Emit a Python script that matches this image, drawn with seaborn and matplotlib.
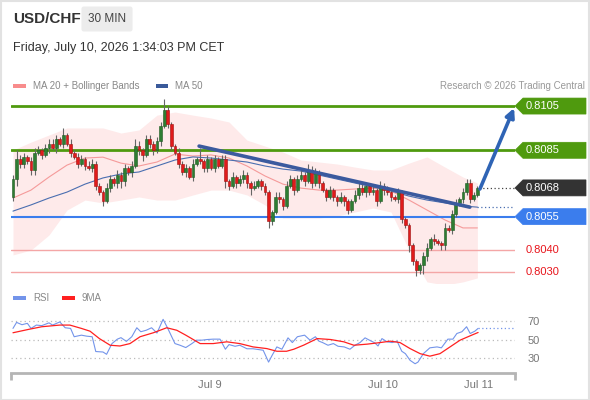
import numpy as np
import pandas as pd
import matplotlib
matplotlib.use("Agg")
import matplotlib.pyplot as plt
from matplotlib.patches import Rectangle, Polygon
import seaborn as sns

sns.set_theme(style="white")
plt.rcParams["font.family"] = ["Liberation Sans", "DejaVu Sans"]

# ---- price data (30 min candles, open = previous close) ----
first_open = 0.8064
closes = [
    0.8072, 0.8081, 0.8079, 0.8082, 0.8080, 0.8076, 0.8084, 0.8085, 0.8083, 0.8086,
    0.8088, 0.8086, 0.8090, 0.8088, 0.8092, 0.8088, 0.8084, 0.8082, 0.8079, 0.8081,
    0.8078, 0.8077, 0.8079, 0.8069, 0.8066, 0.8062, 0.8068, 0.8072, 0.8070, 0.8074,
    0.8071, 0.8077, 0.8075, 0.8078, 0.8087, 0.8085, 0.8083, 0.8090, 0.8088, 0.8085,
    0.8089, 0.8096, 0.8103, 0.8097, 0.8087, 0.8084, 0.8079, 0.8075, 0.8077, 0.8073,
    0.8079, 0.8081, 0.8080, 0.8077, 0.8081, 0.8077, 0.8081, 0.8078, 0.8081, 0.8071,
    0.8069, 0.8073, 0.8070, 0.8072, 0.8074, 0.8070, 0.8068, 0.8069, 0.8071, 0.8069,
    0.8066, 0.8053, 0.8057, 0.8064, 0.8063, 0.8060, 0.8069, 0.8072, 0.8067, 0.8072,
    0.8074, 0.8071, 0.8076, 0.8070, 0.8075, 0.8070, 0.8067, 0.8064, 0.8067, 0.8064,
    0.8062, 0.8064, 0.8062, 0.8058, 0.8062, 0.8065, 0.8068, 0.8066, 0.8069, 0.8066,
    0.8067, 0.8062, 0.8069, 0.8067, 0.8066, 0.8064, 0.8063, 0.8066, 0.8054, 0.8051,
    0.8042, 0.8035, 0.8031, 0.8033, 0.8037, 0.8041, 0.8045, 0.8044, 0.8043, 0.8042,
    0.8050, 0.8049, 0.8056, 0.8061, 0.8063, 0.8066, 0.8070, 0.8063, 0.8065, 0.8068,
]
# wick lengths beyond the body, in pips
wick_up = [
    2, 4, 2, 2, 1, 2, 2, 2, 1, 2,
    2, 2, 2, 1, 3, 1, 2, 1, 2, 2,
    1, 2, 2, 1, 1, 1, 2, 2, 1, 2,
    1, 2, 1, 2, 3, 2, 1, 2, 2, 1,
    2, 2, 5, 2, 1, 1, 2, 1, 2, 1,
    2, 1, 5, 1, 2, 1, 2, 1, 2, 2,
    1, 2, 1, 2, 2, 1, 1, 2, 1, 1,
    1, 1, 1, 2, 2, 1, 2, 2, 1, 2,
    2, 1, 3, 2, 2, 1, 1, 1, 2, 1,
    1, 2, 1, 1, 1, 2, 2, 2, 1, 1,
    2, 1, 2, 1, 2, 1, 1, 2, 1, 1,
    1, 1, 1, 1, 2, 2, 1, 2, 1, 1,
    2, 1, 2, 2, 1, 2, 2, 2, 1, 1,
]
wick_dn = [
    2, 3, 2, 2, 1, 2, 2, 1, 2, 1,
    2, 1, 2, 1, 2, 1, 2, 1, 2, 1,
    2, 1, 2, 2, 1, 2, 1, 2, 1, 2,
    3, 2, 1, 2, 1, 2, 3, 1, 2, 2,
    1, 2, 1, 2, 2, 1, 2, 1, 2, 1,
    2, 1, 1, 2, 2, 1, 2, 1, 1, 3,
    2, 1, 2, 1, 2, 2, 3, 1, 1, 2,
    1, 3, 2, 1, 2, 2, 1, 1, 2, 1,
    1, 2, 1, 2, 1, 2, 1, 2, 1, 2,
    2, 1, 2, 2, 1, 1, 2, 1, 2, 1,
    1, 2, 1, 2, 1, 2, 1, 2, 2, 1,
    3, 2, 3, 2, 4, 2, 1, 2, 1, 2,
    2, 1, 2, 1, 1, 2, 1, 2, 1, 1,
]

# moving averages and bollinger bands, read every 5 candles
ma_idx = [0, 5, 10, 15, 20, 25, 30, 35, 40, 45, 50, 55, 60, 65, 70, 75, 80, 85, 90,
          95, 100, 105, 110, 115, 120, 125, 129]
ma20 = [0.80634, 0.80670, 0.80729, 0.80783, 0.80815, 0.80819, 0.80792, 0.80779, 0.80797,
        0.80833, 0.80824, 0.80829, 0.80815, 0.80779, 0.80734, 0.80697, 0.80679, 0.80670,
        0.80670, 0.80675, 0.80679, 0.80666, 0.80625, 0.80580, 0.80535, 0.80499, 0.80499]
ma50 = [0.80575, 0.80603, 0.80634, 0.80661, 0.80697, 0.80725, 0.80743, 0.80752, 0.80779,
        0.80806, 0.80820, 0.80815, 0.80806, 0.80797, 0.80779, 0.80765, 0.80756, 0.80738,
        0.80720, 0.80702, 0.80684, 0.80666, 0.80643, 0.80625, 0.80612, 0.80598, 0.80593]
bb_up = [0.80851, 0.80887, 0.80919, 0.80951, 0.80951, 0.80951, 0.80928, 0.80942, 0.81009,
         0.81023, 0.81009, 0.80996, 0.80978, 0.80896, 0.80869, 0.80842, 0.80806, 0.80797,
         0.80788, 0.80774, 0.80761, 0.80761, 0.80792, 0.80820, 0.80774, 0.80729, 0.80702]
bb_dn = [0.80377, 0.80399, 0.80467, 0.80580, 0.80625, 0.80612, 0.80625, 0.80639, 0.80625,
         0.80625, 0.80648, 0.80670, 0.80670, 0.80648, 0.80603, 0.80544, 0.80544, 0.80544,
         0.80553, 0.80571, 0.80589, 0.80571, 0.80399, 0.80255, 0.80241, 0.80255, 0.80273]

# trend line and target arrow (candle index, price)
trend_x = [51.7, 126.9]
trend_y = [0.80869, 0.80593]
arrow_x = [129.7, 139.2]
arrow_y = [0.80675, 0.81041]

# support / resistance levels
res_levels = [0.8105, 0.8085]
piv_level = 0.8055
sup_levels = [0.8040, 0.8030]
last_price = 0.8068
ma50_last = 0.80593

# RSI panel
rsi_idx = [0, 1, 2.5, 4, 5, 6.5, 8, 10, 11, 13,
           14.5, 16, 17, 19, 20.5, 22, 23, 25, 26, 27.5,
           29, 30, 31.5, 33, 34.4, 35.5, 37, 38.5, 40, 41.7,
           43, 45, 46.4, 48, 49.7, 51, 52.5, 54, 55.6, 57.5,
           59, 60, 61.7, 63, 65, 66.7, 69.5, 71, 72, 73.3,
           74.7, 76.4, 77.6, 79, 81, 82.5, 84, 85, 86, 87.5,
           89, 90.3, 92, 93.6, 95, 96.4, 97.8, 99, 100.5, 101.4,
           102.5, 103.9, 105.3, 106.7, 108, 109, 110.3, 111.7, 112.5, 114,
           115.8, 117.8, 119, 120.8, 122.2, 123.3, 124.7, 126, 127, 128.3,
           129.2]
rsi_val = [62, 68.5, 66, 67.5, 62, 65.6, 65, 68, 65.6, 69,
           62.7, 62, 53, 54.7, 53.6, 53, 37, 36.5, 34, 45.6,
           50.4, 52, 48, 53, 62.7, 58.4, 60, 62.7, 57, 71.8,
           62, 45.6, 43.8, 41.3, 45.6, 49.3, 49.3, 50, 50.4, 50.4,
           39.5, 44.5, 42.7, 43.8, 40, 40, 38.4, 25.6, 33, 42,
           39.5, 51.8, 46.7, 53, 54.7, 49.3, 53, 48.2, 46.7, 43.8,
           45.6, 42.7, 42, 39.5, 43.8, 46.7, 51.8, 49.3, 46.4, 43,
           51, 47.5, 46.7, 48.2, 37.3, 34.7, 27.5, 23.8, 25.6, 34.7,
           41, 42, 41, 50.4, 50.4, 56.5, 58.4, 63.8, 56.5, 59,
           62]
rsi_ma_idx = [0, 4.4, 8, 13, 15.8, 19, 21.4, 24, 27, 29.7,
              32.5, 35.3, 39, 42.7, 45.5, 48, 52, 55.6, 59.4, 63,
              66.7, 70.5, 73.3, 76, 78, 80.8, 84.5, 88.2, 91.9, 94.7,
              98.4, 102, 104.8, 107.5, 110.3, 113.1, 115.8, 118.6, 121.4, 124.2,
              127, 129.2]
rsi_ma_val = [57.3, 61, 63.8, 65.6, 65.6, 62, 59, 51, 43.8, 43,
              45.6, 53, 57.3, 62.7, 60, 54.7, 45.6, 45.6, 47.5, 45.6,
              42, 40.2, 37.3, 37.3, 39.5, 44, 51, 50, 47.5, 43.8,
              45, 46.7, 48.2, 46.7, 40.2, 34.7, 32, 34.7, 42, 49.3,
              54, 57.6]
rsi_levels = [30, 50, 70]
date_pos = [54.7, 102.8, 129.4]
date_labels = ["Jul 9", "Jul 10", "Jul 11"]

# colours
GREEN = "#4f9a0e"
BLUE = "#3b7ded"
RED_LINE = "#f4a6a6"
RED_TXT = "#e8141b"
CANDLE_UP = "#2e7d32"
CANDLE_DN = "#e01b1b"
TREND = "#3b5a9e"

W, H = 590, 400


def fx(px):
    return px / W


def fy(py):
    return 1 - py / H


fig = plt.figure(figsize=(5.9, 4.0), dpi=100)
fig.patch.set_facecolor("white")

# ---- price panel ----
ax = fig.add_axes([fx(11), fy(283), 504 / W, 188 / H])
ax.set_xlim(-0.55, 139.45)
ax.set_ylim(0.80250, 0.81100)
ax.axis("off")

ax.fill_between(ma_idx, bb_dn, bb_up, color="#feeaea", lw=0, zorder=1)
sns.lineplot(x=ma_idx, y=ma20, ax=ax, color="#f59a9a", linewidth=0.8, zorder=2)
sns.lineplot(x=ma_idx, y=ma50, ax=ax, color="#4a6eb0", linewidth=0.8, zorder=2)

for lv in res_levels:
    ax.axhline(lv, color=GREEN, lw=2, zorder=2.5)
ax.axhline(piv_level, color=BLUE, lw=1.5, zorder=2.5)
for lv in sup_levels:
    ax.axhline(lv, color=RED_LINE, lw=1, zorder=2.5)

n = len(closes)
idx = np.arange(n)
c = np.array(closes)
o = np.concatenate([[first_open], c[:-1]])
hi = np.maximum(o, c) + np.array(wick_up) * 0.0001
lo = np.minimum(o, c) - np.array(wick_dn) * 0.0001
up = c >= o
ax.vlines(idx, lo, hi, color="#666666", lw=0.8, zorder=3)
body = np.where(np.abs(c - o) < 0.00004, 0.00004, c - o)
ax.bar(idx, body, bottom=o, width=0.78,
       color=np.where(up, CANDLE_UP, CANDLE_DN),
       edgecolor=np.where(up, "#1e5a22", "#a01010"), linewidth=0.4, zorder=3.5)

sns.lineplot(x=trend_x, y=trend_y, ax=ax, color=TREND, linewidth=2.6, zorder=4)
ax.annotate("", xy=(arrow_x[1], arrow_y[1]), xytext=(arrow_x[0], arrow_y[0]),
            arrowprops=dict(arrowstyle="-|>", color="#2f64b5", lw=2.6,
                            mutation_scale=13, shrinkA=0, shrinkB=0), zorder=5)

ax.plot([n - 0.5, 139.45], [last_price, last_price], color="#444444", lw=0.9,
        ls=(0, (1, 2)), zorder=4)
ax.plot([n - 1, 139.45], [ma50_last, ma50_last], color="#4a6eb0", lw=0.9,
        ls=(0, (1, 2)), zorder=4)


# ---- right side price labels ----
def level_py(level):
    disp = ax.transData.transform((0, level))
    return H - disp[1]


def tag(level, text, fc):
    py = level_py(level)
    pts = [(515, py), (523, py - 8), (586, py - 8), (586, py + 8), (523, py + 8)]
    fig.patches.append(Polygon([(fx(a), fy(b)) for a, b in pts], closed=True,
                               transform=fig.transFigure, fc=fc, ec=fc, lw=0.5))
    fig.text(fx(526), fy(py), text, color="white", fontsize=8, va="center", ha="left")


tag(0.8105, "0.8105", GREEN)
tag(0.8085, "0.8085", GREEN)
tag(last_price, "0.8068", "#333333")
tag(piv_level, "0.8055", BLUE)
for lv in sup_levels:
    fig.text(fx(526), fy(level_py(lv)), f"{lv:.4f}", color=RED_TXT, fontsize=8,
             va="center", ha="left")

# ---- RSI panel ----
rax = fig.add_axes([fx(11), fy(373), 504 / W, 68 / H])
rax.set_xlim(-0.55, 139.45)
rax.set_ylim(13.8, 87.3)
for s in ["top", "left", "right"]:
    rax.spines[s].set_visible(False)
rax.spines["bottom"].set_color("#b5b5b5")
rax.spines["bottom"].set_linewidth(2)
for lv in rsi_levels:
    rax.axhline(lv, color="#bbbbbb", lw=0.9, ls=(0, (1, 2.5)), zorder=1)
sns.lineplot(x=rsi_idx, y=rsi_val, ax=rax, color="#7394ea", linewidth=0.8, zorder=2)
sns.lineplot(x=rsi_ma_idx, y=rsi_ma_val, ax=rax, color="#ff2020", linewidth=0.9, zorder=3)
rax.plot([rsi_idx[-1], 139.2], [rsi_val[-1], rsi_val[-1]], color="#7394ea", lw=0.9,
         ls=(0, (1, 2)), zorder=2)

rax.set_xticks([-0.55, 139.45])
rax.set_xticklabels(["", ""])
rax.tick_params(axis="x", which="major", length=5, width=2, color="#b5b5b5", bottom=True)
rax.set_xticks(date_pos, minor=True)
rax.set_xticklabels(date_labels, minor=True)
rax.tick_params(axis="x", which="minor", length=0, pad=5, labelsize=8, labelcolor="#777777")
rax.yaxis.tick_right()
rax.set_yticks(rsi_levels)
rax.set_yticklabels([str(v) for v in rsi_levels])
rax.tick_params(axis="y", length=0, pad=9, labelsize=8, labelcolor="#777777")
rax.set_xlabel("")
rax.set_ylabel("")
ax.set_xlabel("")
ax.set_ylabel("")

# ---- header and legends ----
fig.text(fx(13), fy(19), "USD/CHF", fontsize=11, fontweight="bold", color="#333333",
         va="center", ha="left")
fig.text(fx(107), fy(19), "30 MIN", fontsize=8.5, color="#444444", va="center", ha="center",
         bbox=dict(boxstyle="round,pad=0.55,rounding_size=0.2", fc="#ececec", ec="none"))
fig.text(fx(13), fy(48), "Friday, July 10, 2026 1:34:03 PM CET", fontsize=9,
         color="#333333", va="center", ha="left")

fig.patches.append(Rectangle((fx(13), fy(88)), 13 / W, 4 / H, transform=fig.transFigure,
                             fc="#f88c8c", ec="none"))
fig.text(fx(33), fy(86), "MA 20 + Bollinger Bands", fontsize=7, color="#888888", va="center")
fig.patches.append(Rectangle((fx(156), fy(88)), 12 / W, 4 / H, transform=fig.transFigure,
                             fc="#3a5a9a", ec="none"))
fig.text(fx(175), fy(86), "MA 50", fontsize=7, color="#888888", va="center")
fig.text(fx(585), fy(86), "Research \u00a9 2026 Trading Central", fontsize=7,
         color="#999999", va="center", ha="right")

fig.patches.append(Rectangle((fx(13), fy(300)), 13 / W, 4 / H, transform=fig.transFigure,
                             fc="#7394ea", ec="none"))
fig.text(fx(33), fy(298), "RSI", fontsize=7, color="#888888", va="center")
fig.patches.append(Rectangle((fx(62), fy(300)), 13 / W, 4 / H, transform=fig.transFigure,
                             fc="#ff2020", ec="none"))
fig.text(fx(82), fy(298), "9MA", fontsize=7, color="#888888", va="center")

# outer frame
fig.patches.append(Rectangle((0.001, 0.001), 0.997, 0.997, transform=fig.transFigure,
                             fc="none", ec="#e2e2e2", lw=1.5))

fig.savefig("out.png", dpi=100)
